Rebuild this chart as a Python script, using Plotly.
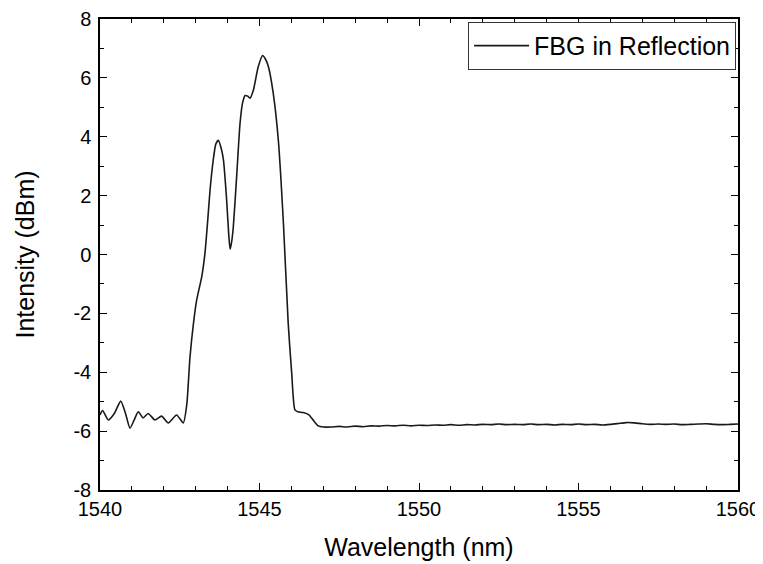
import plotly.graph_objects as go

# FBG reflection spectrum
# left baseline ripple
wl_left = [1540.00, 1540.08, 1540.26, 1540.45, 1540.65, 1540.80, 1540.94, 1541.08,
           1541.20, 1541.35, 1541.51, 1541.72, 1541.93, 1542.14, 1542.40, 1542.61]
int_left = [-5.45, -5.30, -5.62, -5.40, -4.98, -5.40, -5.90, -5.60,
            -5.34, -5.55, -5.40, -5.62, -5.49, -5.72, -5.45, -5.72]

# grating peak
wl_peak = [1542.72, 1542.82, 1542.93, 1543.03, 1543.19, 1543.29, 1543.38, 1543.45,
           1543.55, 1543.63, 1543.71, 1543.80, 1543.87, 1543.97, 1544.04, 1544.08,
           1544.13, 1544.18, 1544.29, 1544.39, 1544.47, 1544.55, 1544.63, 1544.70,
           1544.81, 1544.96, 1545.10, 1545.18, 1545.28, 1545.43, 1545.59, 1545.75,
           1545.90, 1546.01, 1546.11, 1546.20, 1546.37, 1546.55, 1546.70, 1546.84,
           1547.00]
int_peak = [-5.10, -3.50, -2.34, -1.55, -0.75, 0.04, 1.20, 2.19,
            3.21, 3.75, 3.88, 3.60, 3.21, 1.85, 0.60, 0.18,
            0.45, 0.95, 2.76, 4.46, 5.15, 5.40, 5.38, 5.31,
            5.59, 6.38, 6.76, 6.65, 6.38, 5.48, 3.89, 1.06,
            -2.34, -4.04, -5.28, -5.34, -5.37, -5.45, -5.65, -5.82,
            -5.86]

# flat noise floor on the long-wavelength side
wl_floor = [1547.25, 1547.5, 1547.75, 1548.0, 1548.25, 1548.5, 1548.75, 1549.0,
            1549.25, 1549.5, 1549.75, 1550.0, 1550.25, 1550.5, 1550.75, 1551.0,
            1551.25, 1551.5, 1551.75, 1552.0, 1552.25, 1552.5, 1552.75, 1553.0,
            1553.25, 1553.5, 1553.75, 1554.0, 1554.25, 1554.5, 1554.75, 1555.0,
            1555.25, 1555.5, 1555.75, 1556.0, 1556.25, 1556.5, 1556.75, 1557.0,
            1557.25, 1557.5, 1557.75, 1558.0, 1558.25, 1558.5, 1558.75, 1559.0,
            1559.25, 1559.5, 1559.75, 1560.0]
int_floor = [-5.86, -5.84, -5.86, -5.83, -5.85, -5.82, -5.83, -5.81,
             -5.82, -5.80, -5.82, -5.80, -5.81, -5.79, -5.80, -5.78,
             -5.80, -5.78, -5.79, -5.77, -5.78, -5.76, -5.78, -5.77,
             -5.78, -5.76, -5.78, -5.77, -5.79, -5.77, -5.78, -5.76,
             -5.78, -5.77, -5.79, -5.77, -5.74, -5.71, -5.72, -5.75,
             -5.77, -5.76, -5.77, -5.76, -5.78, -5.77, -5.76, -5.75,
             -5.77, -5.78, -5.77, -5.76]

wavelength = wl_left + wl_peak + wl_floor
intensity = int_left + int_peak + int_floor

# tick labels (plain hyphen minus like the original)
x_ticks = [1540, 1545, 1550, 1555, 1560]
y_ticks = [-8, -6, -4, -2, 0, 2, 4, 6, 8]
y_ticktext = ["-8", "-6", "-4", "-2", "0", "2", "4", "6", "8"]

FONT = "Liberation Sans, Arial, sans-serif"

fig = go.Figure()
fig.add_trace(go.Scatter(
    x=wavelength, y=intensity, mode="lines", name="FBG in Reflection",
    line=dict(color="#1a1a1a", width=1.6, shape="spline", smoothing=0.6),
))

axis_style = dict(
    showline=True, linecolor="black", linewidth=1.5, mirror="ticks",
    ticks="inside", ticklen=7, tickwidth=1.2, tickcolor="black",
    showgrid=False, zeroline=False, automargin=False,
    tickfont=dict(family=FONT, size=20, color="black"),
    minor=dict(ticks="inside", ticklen=4, tickwidth=1.2, tickcolor="black", dtick=1, showgrid=False),
)

fig.update_xaxes(axis_style, range=[1540, 1560], tickvals=x_ticks,
                 title=dict(text="Wavelength (nm)", font=dict(family=FONT, size=25, color="black"), standoff=20))
fig.update_yaxes(axis_style, range=[-8, 8], tickvals=y_ticks, ticktext=y_ticktext,
                 ticklabelstandoff=3,
                 title=dict(text="Intensity (dBm)", font=dict(family=FONT, size=25, color="black"), standoff=32))

# page body adds an 8px margin, so the figure is sized to fill what is left
fig.update_layout(
    width=755, height=556,
    margin=dict(l=92, r=25, t=11, b=74),
    paper_bgcolor="white", plot_bgcolor="white",
    showlegend=True,
    legend=dict(x=0.997, xanchor="right", y=0.994, yanchor="top",
                bordercolor="#333", borderwidth=1, bgcolor="white",
                itemwidth=55, tracegroupgap=0,
                font=dict(family=FONT, size=25, color="black")),
)

fig.write_html("out.html")
